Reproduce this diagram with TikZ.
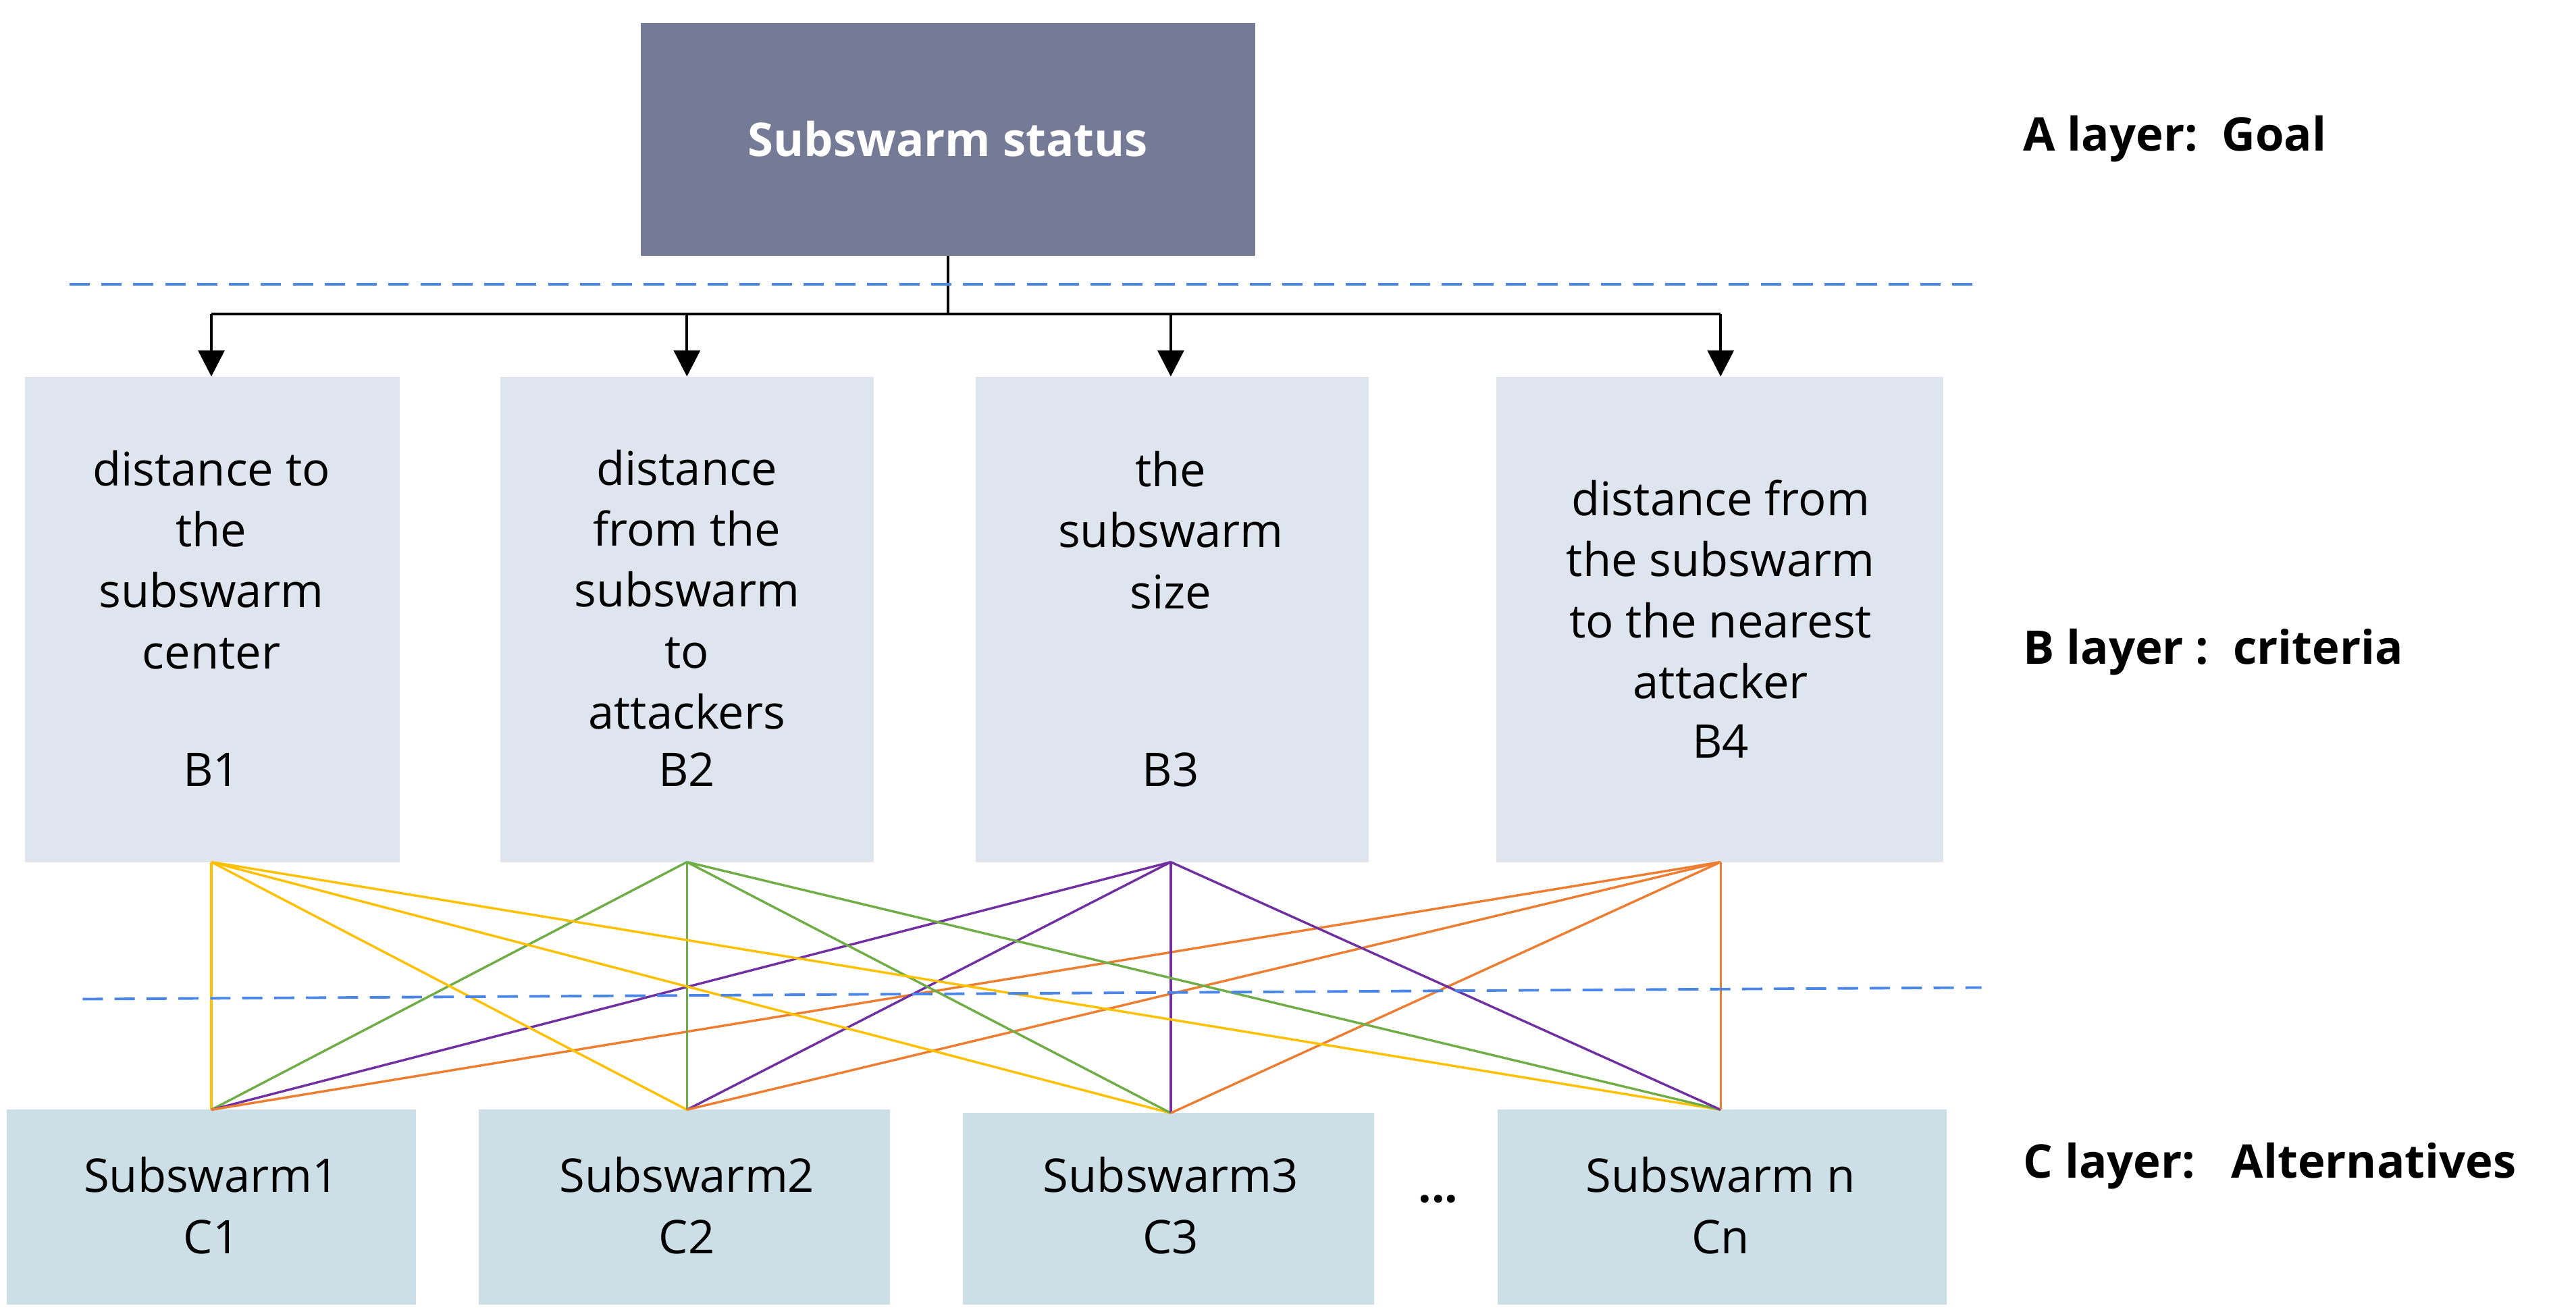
\documentclass[tikz,border=0pt]{standalone}
\usepackage{fontspec}
\setmainfont{Open Sans}
\usetikzlibrary{arrows.meta}
\definecolor{goal}{HTML}{757B96}
\definecolor{bfill}{HTML}{DFE5EF}
\definecolor{cfill}{HTML}{CCDEE6}
\definecolor{cy}{HTML}{FFC000}
\definecolor{cg}{HTML}{70AD47}
\definecolor{cp}{HTML}{7030A0}
\definecolor{co}{HTML}{ED7D31}
\definecolor{dashblue}{HTML}{4A86E8}
\begin{document}
\begin{tikzpicture}[x=0.02cm,y=-0.02cm,
  txt/.style={font=\fontsize{16}{21}\selectfont,align=center,inner sep=0},
  bbox/.style={fill=bfill,draw=none},
  cbox/.style={fill=cfill,draw=none},
  arr/.style={-{Triangle[width=9pt,length=9pt]},line width=1pt},
  lab/.style={font=\fontsize{16}{21}\selectfont\bfseries,anchor=west,inner sep=0},
  dl/.style={draw=dashblue,line width=0.9pt,dash pattern=on 7pt off 4pt}]
\useasboundingbox (0,0) rectangle (1560,792);
% goal
\fill[goal] (388,14) rectangle (760,155);
\node[txt,text=white,font=\fontsize{16}{21}\selectfont\bfseries] (A) at (574,84) {Subswarm status};
\coordinate (Abot) at (574,155);
% B boxes
\fill[bbox] (15,228) rectangle (242,522);
\fill[bbox] (303,228) rectangle (529,522);
\fill[bbox] (591,228) rectangle (829,522);
\fill[bbox] (906,228) rectangle (1177,522);
\coordinate (B1t) at (128,228); \coordinate (B2t) at (416,228);
\coordinate (B3t) at (709,228); \coordinate (B4t) at (1042,228);
\coordinate (B1b) at (128,522); \coordinate (B2b) at (416,522);
\coordinate (B3b) at (709,522); \coordinate (B4b) at (1042,522);
\node[txt] at (128,339) {distance to\\the\\subswarm\\center};
\node[txt] at (128,466) {B1};
\node[txt] at (416,357) {distance\\from the\\subswarm\\to\\attackers};
\node[txt] at (416,466) {B2};
\node[txt] at (709,321) {the\\subswarm\\size};
\node[txt] at (709,466) {B3};
\node[txt] at (1042,357) {distance from\\the subswarm\\to the nearest\\attacker};
\node[txt] at (1042,449) {B4};
% tree
\coordinate (J) at (574,190);
\draw[line width=1pt] (Abot) -- (J);
\draw[line width=1pt] (128,190) -- (1042,190);
\draw[arr] (128,190) -- (B1t);
\draw[arr] (416,190) -- (B2t);
\draw[arr] (709,190) -- (B3t);
\draw[arr] (1042,190) -- (B4t);
% C boxes
\fill[cbox] (4,672) rectangle (252,790);
\fill[cbox] (290,672) rectangle (539,790);
\fill[cbox] (583,674) rectangle (832,790);
\fill[cbox] (907,672) rectangle (1179,790);
\coordinate (C1) at (128,672); \coordinate (C2) at (416,672);
\coordinate (C3) at (709,674); \coordinate (C4) at (1042,672);
\node[txt] at (128,730) {Subswarm1\\C1};
\node[txt] at (416,730) {Subswarm2\\C2};
\node[txt] at (709,730) {Subswarm3\\C3};
\node[txt] at (1042,730) {Subswarm n\\Cn};
\node[txt,font=\fontsize{16}{21}\selectfont\bfseries] at (871,726) {...};
% connectors
\foreach \c in {C1,C2,C3,C4}{
  \draw[cy,line width=0.8pt] (B1b) -- (\c);
  \draw[cg,line width=0.8pt] (B2b) -- (\c);
  \draw[cp,line width=0.8pt] (B3b) -- (\c);
  \draw[co,line width=0.8pt] (B4b) -- (\c);
}
% dashed lines
\draw[dl] (42,172) -- (1195,172);
\draw[dl] (50,605) -- (1200,598);
% labels
\node[lab] at (1225,84) {A layer:\ \ Goal};
\node[lab] at (1225,395) {B layer\ :\ \ criteria};
\node[lab] at (1225,706) {C layer:\ \ \ Alternatives};
\end{tikzpicture}
\end{document}
